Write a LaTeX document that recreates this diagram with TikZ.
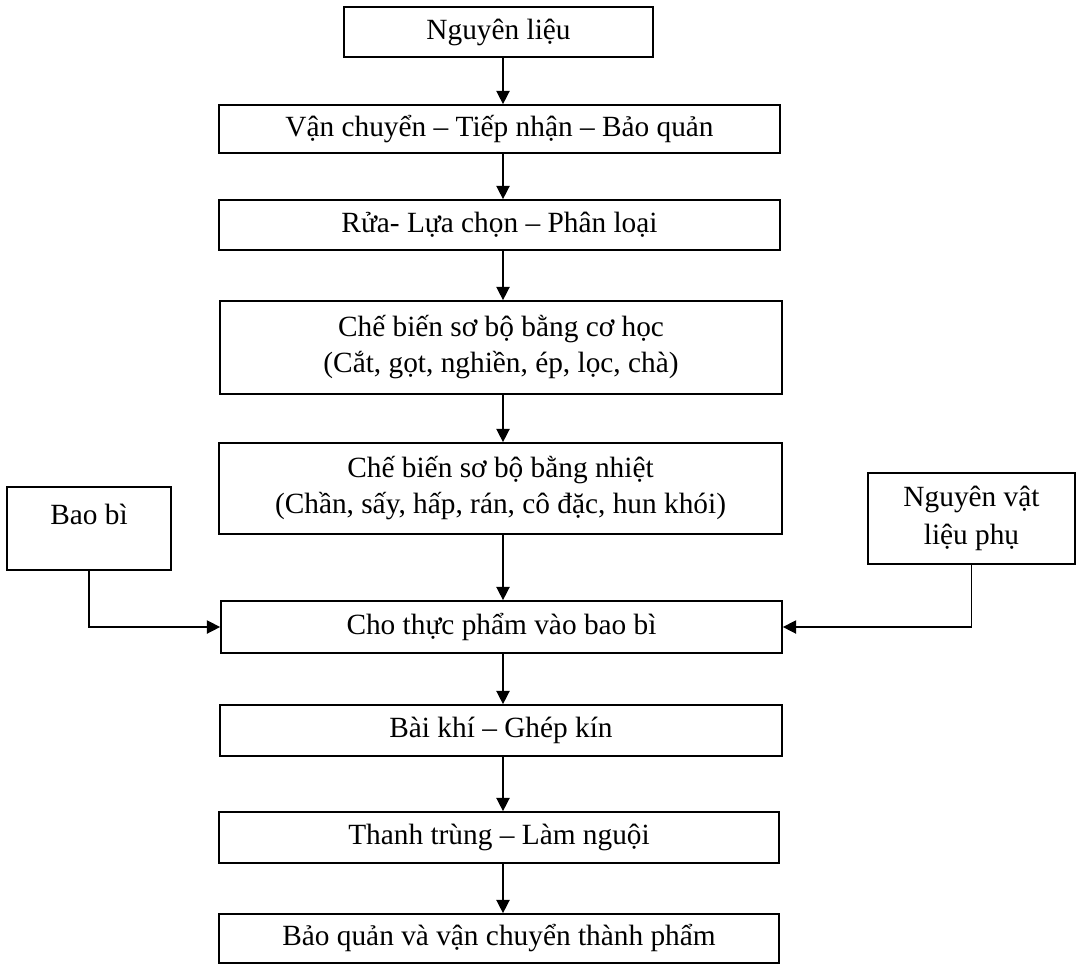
\documentclass[tikz,border=0pt]{standalone}
\usepackage{fontspec}
\setmainfont{Liberation Serif}
\usetikzlibrary{arrows.meta}
\begin{document}
\begin{tikzpicture}[x=0.75pt,y=-0.75pt,
  sized/.style 2 args={minimum width={#1*0.75pt},minimum height={#2*0.75pt}},
  stepbox/.style={draw,line width=1.3pt,inner sep=0pt,align=center,
    font=\fontsize{22}{27}\selectfont},
  plain/.style={inner sep=0pt,align=center,font=\fontsize{22}{27}\selectfont},
  flow/.style={line width=1.1pt,-{Triangle[length=10pt,width=10pt]}}]
\useasboundingbox (0,0) rectangle (1078,965);

% main process chain
\node[stepbox,sized={309}{50}] (n1) at (498.5,32) {Nguyên liệu};
\node[stepbox,sized={561}{48}] (n2) at (499.5,129) {Vận chuyển -- Tiếp nhận -- Bảo quản};
\node[stepbox,sized={561}{50}] (n3) at (499.5,225) {Rửa- Lựa chọn -- Phân loại};
\node[stepbox,sized={562}{93}] (n4) at (501,347.5)
  {Chế biến sơ bộ bằng cơ học\\(Cắt, gọt, nghiền, ép, lọc, chà)};
\node[stepbox,sized={563}{91}] (n5) at (500.5,488.5)
  {Chế biến sơ bộ bằng nhiệt\\(Chần, sấy, hấp, rán, cô đặc, hun khói)};
\node[stepbox,sized={561}{52}] (n6) at (501.5,627) {Cho thực phẩm vào bao bì};
\node[stepbox,sized={562}{51}] (n7) at (501,730.5) {Bài khí -- Ghép kín};
\node[stepbox,sized={560}{51}] (n8) at (499,837.5) {Thanh trùng -- Làm nguội};
\node[stepbox,sized={560}{49}] (n9) at (499,938.5) {Bảo quản và vận chuyển thành phẩm};

% side inputs
\node[stepbox,sized={164}{83}] (bao) at (89,528.5) {};
\node[plain] (baotext) at (89,514) {Bao bì};
\node[stepbox,sized={207}{91},font=\fontsize{22}{29}\selectfont] (nvl) at (971.5,518.5)
  {Nguyên vật\\liệu phụ};

% connectors
\coordinate (spine) at (503,0);
\draw[flow] (n1.south -| spine) -- (n2.north -| spine);
\draw[flow] (n2.south -| spine) -- (n3.north -| spine);
\draw[flow] (n3.south -| spine) -- (n4.north -| spine);
\draw[flow] (n4.south -| spine) -- (n5.north -| spine);
\draw[flow] (n5.south -| spine) -- (n6.north -| spine);
\draw[flow] (n6.south -| spine) -- (n7.north -| spine);
\draw[flow] (n7.south -| spine) -- (n8.north -| spine);
\draw[flow] (n8.south -| spine) -- (n9.north -| spine);
\draw[flow] (bao.south) |- (n6.west);
\draw[flow] (nvl.south) |- (n6.east);
\end{tikzpicture}
\end{document}
